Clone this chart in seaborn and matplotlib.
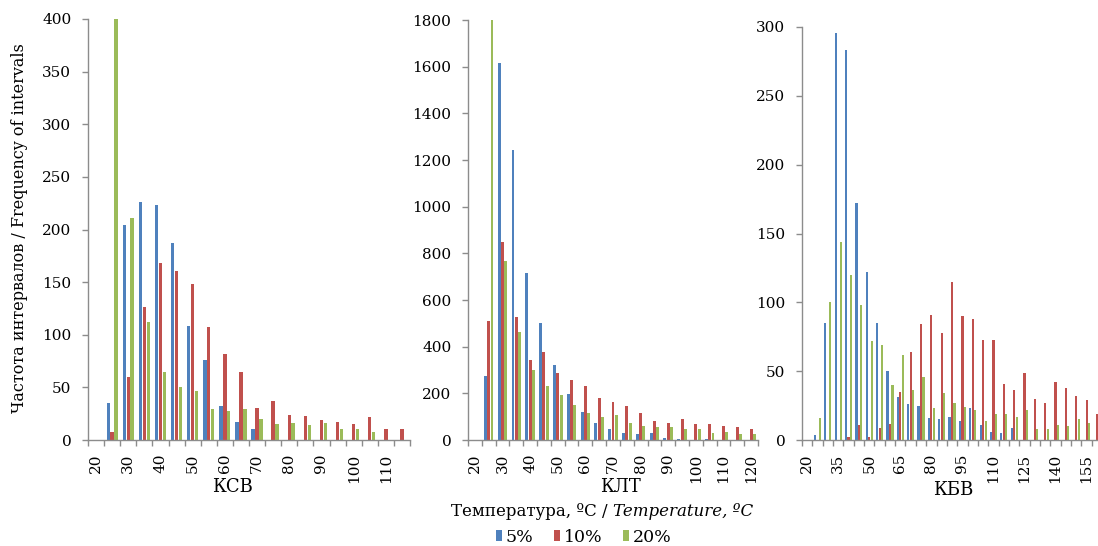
import numpy as np
import pandas as pd
import matplotlib
matplotlib.use("Agg")
import matplotlib.pyplot as plt
import seaborn as sns

sns.set_theme(style="ticks")
plt.rcParams.update(
    {
        "font.family": "DejaVu Serif",
        "text.color": "black",
        "xtick.color": "black",
        "ytick.color": "black",
        "axes.labelcolor": "black",
    }
)

series = ["5%", "10%", "20%"]
colors = ["#4F81BD", "#C0504D", "#9BBB59"]
axis_gray = "#8C8C8C"

# КСВ
ksv_temp = list(range(20, 120, 5))
ksv_5 = [0, 35, 204, 226, 223, 187, 108, 76, 32, 17, 10, 0, 0, 0, 0, 0, 0, 0, 0, 0]
ksv_10 = [0, 8, 60, 126, 168, 161, 148, 107, 82, 65, 30, 37, 24, 23, 19, 17, 15, 22, 10, 10]
ksv_20 = [0, 400, 211, 112, 65, 50, 47, 29, 28, 29, 20, 15, 16, 14, 16, 10, 10, 8, 0, 0]

# КЛТ
klt_temp = list(range(20, 125, 5))
klt_5 = [0, 275, 1615, 1244, 716, 502, 323, 198, 120, 72, 47, 31, 27, 30, 8, 4, 2, 4, 0, 0, 0]
klt_10 = [0, 509, 849, 528, 344, 379, 287, 258, 230, 178, 165, 146, 117, 82, 72, 88, 69, 69, 60, 56, 47]
klt_20 = [0, 1800, 766, 464, 302, 233, 194, 152, 114, 98, 107, 75, 62, 56, 56, 46, 46, 31, 36, 27, 24]

# КБВ (right edge of the original is cut off)
kbv_temp = list(range(20, 165, 5))
kbv_5 = [0, 3.6, 85, 296, 283, 172, 122, 85, 50, 31, 26, 25, 16, 15, 17, 14, 23, 11, 6, 5, 8.5,
         0, 0, 0, 0, 0, 0, 0, 0]
kbv_10 = [0, 0, 0, 0, 2.4, 11, 2.4, 8.5, 11.6, 35, 64, 84, 91, 78, 115, 90, 88, 73, 73, 41, 36,
          49, 30, 27, 42, 38, 32, 29, 19]
kbv_20 = [0, 16, 100, 144, 120, 98, 72, 69, 40, 62, 36, 46, 23, 34, 27, 24, 22, 14, 19, 19, 17,
          22, 8, 8, 11, 10, 15, 12, np.nan]


def long_frame(temps, v5, v10, v20):
    rows = []
    for name, vals in zip(series, [v5, v10, v20]):
        for t, v in zip(temps, vals):
            rows.append({"temp": str(t), "series": name, "value": v})
    return pd.DataFrame(rows)


def draw_panel(ax, temps, v5, v10, v20, label_step, ymax, ystep, xmax=None, legend=False):
    df = long_frame(temps, v5, v10, v20)
    sns.barplot(
        data=df,
        x="temp",
        y="value",
        hue="series",
        order=[str(t) for t in temps],
        hue_order=series,
        palette=colors,
        saturation=1,
        width=0.72,
        gap=0.12,
        linewidth=0,
        edgecolor="none",
        errorbar=None,
        legend=legend,
        ax=ax,
    )
    n = len(temps)
    ax.set_xticks(range(n))
    ax.set_xticklabels(
        [str(t) if i % label_step == 0 else "" for i, t in enumerate(temps)], rotation=90
    )
    ax.set_xticks(np.arange(-0.5, n, 1), minor=True)
    ax.tick_params(axis="x", which="major", length=0, pad=10, labelsize=11)
    ax.tick_params(axis="x", which="minor", length=4, width=1, color=axis_gray, direction="out")
    ax.set_xlim(-0.5, n - 0.5 if xmax is None else xmax)
    ax.set_ylim(0, ymax)
    ax.set_yticks(np.arange(0, ymax + 1, ystep))
    ax.tick_params(axis="y", length=4, width=1, color=axis_gray, direction="out",
                   labelsize=11, pad=8)
    ax.set_xlabel("")
    ax.set_ylabel("")
    for s in ["top", "right"]:
        ax.spines[s].set_visible(False)
    for s in ["left", "bottom"]:
        ax.spines[s].set_color(axis_gray)
        ax.spines[s].set_linewidth(1)


W, H = 1098, 546
fig = plt.figure(figsize=(W / 100, H / 100), dpi=100)

ax1 = fig.add_axes([88 / W, 1 - 440 / H, 322 / W, 421 / H])
ax2 = fig.add_axes([468 / W, 1 - 440 / H, 290 / W, 420 / H])
ax3 = fig.add_axes([802 / W, 1 - 440 / H, (W - 802) / W, 413 / H])

draw_panel(ax1, ksv_temp, ksv_5, ksv_10, ksv_20, 2, 400, 50, legend=True)
draw_panel(ax2, klt_temp, klt_5, klt_10, klt_20, 2, 1800, 200)
draw_panel(ax3, kbv_temp, kbv_5, kbv_10, kbv_20, 3, 300, 50, xmax=28.1)

handles, labels = ax1.get_legend_handles_labels()
ax1.get_legend().remove()
fig.legend(
    handles,
    labels,
    loc="center",
    bbox_to_anchor=(584 / W, 1 - 537 / H),
    ncol=3,
    frameon=False,
    fontsize=12.5,
    handlelength=0.35,
    handleheight=0.6,
    handletextpad=0.2,
    columnspacing=1.2,
    borderpad=0,
)

fig.text(20 / W, 1 - 228 / H, "Частота интервалов / Frequency of intervals",
         rotation=90, ha="center", va="center", fontsize=11.5)

fig.text(232 / W, 1 - 487 / H, "КСВ", ha="center", va="center", fontsize=13)
fig.text(620 / W, 1 - 487 / H, "КЛТ", ha="center", va="center", fontsize=13)
fig.text(953 / W, 1 - 490 / H, "КБВ", ha="center", va="center", fontsize=13)

fig.text(613 / W, 1 - 512 / H, "Температура, ºС / ", ha="right", va="center",
         fontsize=12)
fig.text(613 / W, 1 - 512 / H, "Temperature, ºС", ha="left", va="center",
         fontsize=12, style="italic")

fig.savefig("out.png", dpi=100)
